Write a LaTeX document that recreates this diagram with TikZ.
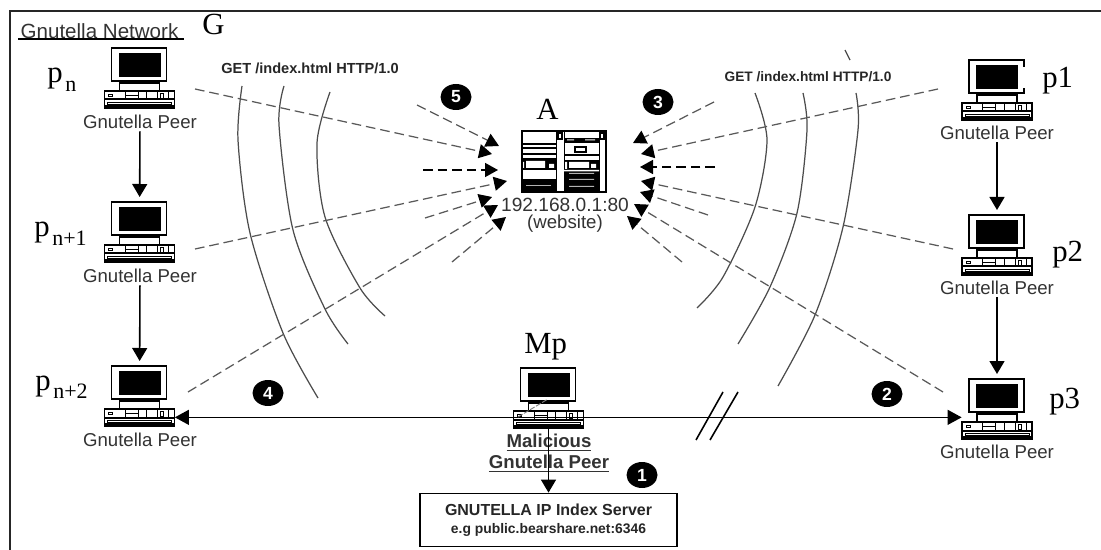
\documentclass[tikz,border=0pt]{standalone}
\usepackage{fontspec}
\setmainfont{Liberation Sans}
\newfontfamily\serifface{Liberation Serif}
\usetikzlibrary{arrows.meta, positioning, shapes}

\newcommand{\peerlabel}[2]{{\serifface\fontsize{17.5}{18}\selectfont #1\kern1.5pt\raisebox{-5pt}{\fontsize{12.5}{13}\selectfont #2}}}

\tikzset{
  computer/.pic={
    \draw[line width=0.7pt] (-28,0) rectangle (27,33);
    \fill (-21,5) rectangle (21,29);
    \draw[line width=0.5pt] (-14,33) -- (-14,35) (14,33) -- (14,35) (-14,34.5) -- (14,34.5);
    \draw[line width=0.6pt] (-20,35) rectangle (20,43);
    \draw[line width=0.8pt] (-35,43) rectangle (35,60);
    \fill (-35,50.5) rectangle (35,52.5);
    \fill (-35,57) rectangle (35,60);
    \draw[line width=0.4pt] (-32,54) rectangle (32,56);
    \draw[line width=0.5pt] (-14.5,43) -- (-14.5,51) (-14.5,47) -- (-1.5,47) (-1.5,43) -- (-1.5,51)
      (7,43) -- (7,51) (18,43) -- (18,51) (29,43) -- (29,51);
    \draw[line width=0.5pt] (21,45) rectangle (24,50);
    \draw[line width=0.3pt] (-31,46) rectangle (-27,48);
    \node[inner sep=0, minimum width=1.4cm, minimum height=1.2cm, anchor=north] (-box) at (0,0) {};
    \node[inner sep=0, minimum width=1.4cm, minimum height=0.32cm, anchor=north] (-case) at (0,43) {};
  },
  website/.pic={
    \draw[line width=0.8pt] (0,0) rectangle (84,61);
    \draw[line width=0.5pt] (34,0) -- (34,61) (42,0) -- (42,61) (77,0) -- (77,61);
    \fill (0,0) rectangle (84,1.5);
    \draw[line width=0.6pt] (36,2) rectangle (40,8) (78,2) rectangle (82,8);
    % left cabinet
    \draw[line width=0.6pt] (0,13) -- (34,13) (0,17) -- (34,17) (0,23) -- (34,23) (0,28) -- (34,28);
    \fill (0,29) rectangle (34,39);
    \fill[white] (4,30) rectangle (23,37) (27,33) rectangle (32,37) (1,31) rectangle (2,37);
    \fill (0,48) rectangle (34,61);
    \fill[white!70!black] (4,54.5) rectangle (29,55.5);
    % right cabinet
    \fill (42,7) rectangle (77,12);
    \fill[white] (45,8.5) rectangle (52,9.5) (63,8.5) rectangle (73,9.5);
    \draw[line width=0.7pt] (53,16) rectangle (64,21);
    \draw[line width=0.6pt] (42,24) -- (77,24);
    \fill (42,29) rectangle (77,61);
    \fill[white] (47,31) rectangle (67,37) (69,33) rectangle (74,37) (43,31) rectangle (45,38)
      (42,39) rectangle (77,40.5);
    \fill[white!70!black] (47,42) rectangle (72,43) (47,48) rectangle (72,49) (47,55) rectangle (72,56);
  },
  peer/.style={inner sep=0, minimum height=0.36cm, font=\fontsize{10.6}{12}\selectfont, text=black!80},
  heading/.style={inner sep=0, anchor=base west},
  bullet/.style={ellipse, fill=black, text=white, inner sep=0, minimum width=0.62cm, minimum height=0.52cm, font=\bfseries\fontsize{10}{10}\selectfont},
  request/.style={inner sep=0, font=\bfseries\fontsize{8.3}{9}\selectfont, text=black!85},
  link/.style={-{Triangle[length=7.4pt, width=8.5pt]}, line width=0.9pt},
  flood/.style={-{Triangle[length=7.4pt, width=8pt, color=black]}, line width=0.7pt, black!65, dash pattern=on 5.5pt off 2.8pt},
  direct/.style={-{Triangle[length=7.4pt, width=8pt]}, line width=0.8pt, dash pattern=on 5.5pt off 2.8pt},
  wave/.style={line width=0.7pt, black!70}
}

\begin{document}
\begin{tikzpicture}[x=0.02cm, y=-0.02cm]
\useasboundingbox (0,0) rectangle (1101,550);
\fill[white] (0,0) rectangle (1101,550);

% Frame
\draw[line width=1pt, black!85] (10,550) -- (10,11) -- (1101,11);
\node[inner sep=0, font=\fontsize{11.7}{13}\selectfont, text=black!80] (network) at (99.5,31) {Gnutella Network};
\draw[line width=0.6pt] (18,39) -- (184,39);

% Left peers
\pic (pn) at (139.5,48) {computer};
\pic (pa) at (139.5,202) {computer};
\pic (pb) at (139.5,366) {computer};
\node[peer] (pn_text) at (140,122) {Gnutella Peer};
\node[peer] (pa_text) at (140,276) {Gnutella Peer};
\node[peer] (pb_text) at (140,440) {Gnutella Peer};

% Right peers
\pic (p1) at (997,60) {computer};
\draw[white, line width=1.2pt] (1024.5,67) -- (1024.5,88);
\pic (p2) at (997,215) {computer};
\pic (p3) at (997,379) {computer};
\node[peer] (p1_text) at (997,133) {Gnutella Peer};
\node[peer] (p2_text) at (997,288) {Gnutella Peer};
\node[peer] (p3_text) at (997,452) {Gnutella Peer};

% Malicious peer
\pic (mp) at (548.5,368) {computer};
\node[peer, font=\bfseries\fontsize{10.6}{12}\selectfont, align=center] (mp_text) at (549,453)
  {\underline{Malicious}\\\underline{Gnutella Peer}};

% Server and website
\pic (web) at (522,131) {website};
\node[inner sep=0, minimum width=1.68cm, minimum height=1.22cm, anchor=north west] (web_box) at (522,131) {};
\node[peer, font=\fontsize{10.9}{13}\selectfont] (web_addr) at (565,205) {192.168.0.1:80};
\node[peer, font=\fontsize{10.6}{12}\selectfont] (web_note) at (565,224) {(website)};
\node[draw, line width=0.7pt, minimum width=5.14cm, minimum height=1.07cm, inner sep=0, align=center, text=black!85] (index) at (548.5,520)
  {{\bfseries\fontsize{9.1}{10}\selectfont GNUTELLA IP Index Server}\\[-1.8pt]{\bfseries\fontsize{7.9}{9}\selectfont e.g public.bearshare.net:6346}};

% Names
\node[heading] (name_g) at (202,35) {\peerlabel{G}{}};
\node[heading] (name_a) at (536,120) {\peerlabel{A}{}};
\node[heading] (name_mp) at (524,353) {\peerlabel{Mp}{}};
\node[heading] (name_pn) at (47,83) {\peerlabel{p}{n}};
\node[heading] (name_pa) at (34,237) {\peerlabel{p}{n+1}};
\node[heading] (name_pb) at (35,390) {\peerlabel{p}{n+2}};
\node[heading] (name_p1) at (1042,88) {\peerlabel{p1}{}};
\node[heading] (name_p2) at (1052,262) {\peerlabel{p2}{}};
\node[heading] (name_p3) at (1049,408) {\peerlabel{p3}{}};

% Requests
\node[request] (get_left) at (310,68) {GET /index.html HTTP/1.0};
\node[request, font=\bfseries\fontsize{7.8}{9}\selectfont] (get_right) at (808,77) {GET /index.html HTTP/1.0};

% Bullets
\node[bullet] (b1) at (642,475) {1};
\node[bullet] (b2) at (887,394) {2};
\node[bullet] (b3) at (658,102) {3};
\node[bullet] (b4) at (268,393) {4};
\node[bullet] (b5) at (456,97) {5};

% Waves
\draw[wave] plot[smooth] coordinates {(242,86) (238,140) (250,233) (283,333) (318,398)};
\draw[wave] plot[smooth] coordinates {(284,86) (279,125) (293,230) (325,309) (348,344)};
\draw[wave] plot[smooth] coordinates {(330,92) (317,143) (325,217) (360,288) (385,316)};
\draw[wave] plot[smooth] coordinates {(755,93) (767,140) (755,207) (723,277) (697,308)};
\draw[wave] plot[smooth] coordinates {(803,93) (807,130) (797,213) (770,287) (738,344)};
\draw[wave] plot[smooth] coordinates {(856,93) (858,130) (843,227) (815,315) (778,386)};
\draw[wave] (845,50) -- (850,60);

% Free ends on the left
\coordinate (l1) at (195,89);   \coordinate (l1_tip) at (492,154);
\coordinate (l2) at (417,105);  \coordinate (l2_tip) at (499,146);
\coordinate (l3) at (423,170);  \coordinate (l3_tip) at (498,170);
\coordinate (l4) at (195,249);  \coordinate (l4_tip) at (507,181);
\coordinate (l5) at (425,218);  \coordinate (l5_tip) at (492,197);
\coordinate (l6) at (188,392);  \coordinate (l6_tip) at (498,205);
\coordinate (l7) at (452,262);  \coordinate (l7_tip) at (506,217);

% Free ends on the right
\coordinate (r1) at (938,89);   \coordinate (r1_tip) at (641,154);
\coordinate (r2) at (714,102);  \coordinate (r2_tip) at (633,143);
\coordinate (r3) at (715,167);  \coordinate (r3_tip) at (640,167);
\coordinate (r4) at (953,249);  \coordinate (r4_tip) at (641,181);
\coordinate (r5) at (708,215);  \coordinate (r5_tip) at (640,192);
\coordinate (r6) at (943,392);  \coordinate (r6_tip) at (634,204);
\coordinate (r7) at (682,262);  \coordinate (r7_tip) at (627,216);

% Requests towards the website
\draw[flood] (l1) -- (l1_tip);
\draw[flood] (l2) -- (l2_tip);
\draw[direct] (l3) -- (l3_tip);
\draw[flood] (l4) -- (l4_tip);
\draw[flood] (l5) -- (l5_tip);
\draw[flood] (l6) -- (l6_tip);
\draw[flood] (l7) -- (l7_tip);
\draw[flood] (r1) -- (r1_tip);
\draw[flood] (r2) -- (r2_tip);
\draw[direct] (r3) -- (r3_tip);
\draw[flood] (r4) -- (r4_tip);
\draw[flood] (r5) -- (r5_tip);
\draw[flood] (r6) -- (r6_tip);
\draw[flood] (r7) -- (r7_tip);

% Peer links
\draw[link, shorten >=0.1cm] (pn_text) -- (pa-box);
\draw[link, shorten >=0.1cm] (pa_text) -- (pb-box);
\draw[link, shorten >=0.1cm] (p1_text) -- (p2-box);
\draw[link, shorten >=0.1cm] (p2_text) -- (p3-box);
\draw[{Triangle[length=8pt, width=8.5pt]}-{Triangle[length=8pt, width=8.5pt]}, line width=0.8pt] (pb-case.east) -- (pb-case.east -| p3-case.west);
\draw[link] (mp-case.south) -- (index.north -| mp-case.south);

% Break in the link
\coordinate (cut1a) at (696,440); \coordinate (cut1b) at (723,392);
\coordinate (cut2a) at (710,440); \coordinate (cut2b) at (738,392);
\draw[line width=0.9pt] (cut1a) -- (cut1b);
\draw[line width=0.9pt] (cut2a) -- (cut2b);

% Mark on the malicious peer
\coordinate (mark1) at (518,417); \coordinate (mark2) at (548,399);
\draw[line width=0.5pt, black!50, dash pattern=on 3pt off 1pt] (mark1) -- (mark2);

\end{tikzpicture}
\end{document}
